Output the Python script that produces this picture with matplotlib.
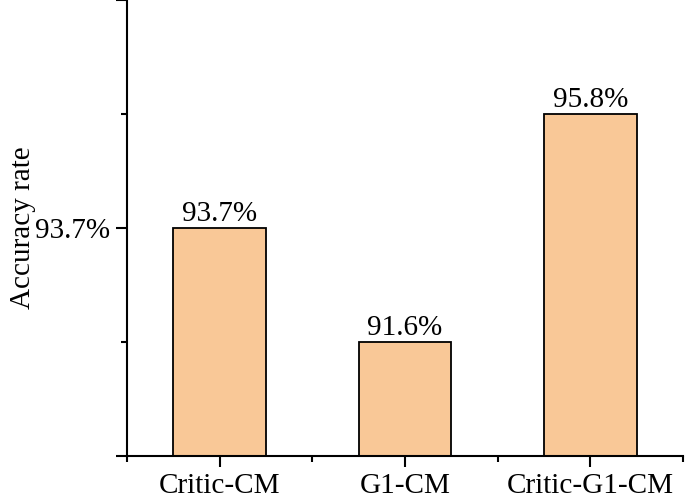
import matplotlib
matplotlib.use('Agg')
import matplotlib.pyplot as plt
from matplotlib.ticker import FixedLocator, FixedFormatter

metodos = ['Critic-CM', 'G1-CM', 'Critic-G1-CM']
precision = [93.7, 91.6, 95.8]
etiquetas = ['93.7%', '91.6%', '95.8%']

plt.rcParams['font.family'] = 'Liberation Serif'
plt.rcParams['font.size'] = 21

fig = plt.figure(figsize=(6.85, 5.04), dpi=100)
ax = fig.add_axes([0.1854, 0.0952, 0.8116, 0.9048])

x = range(len(metodos))
barras = ax.bar(x, precision, width=0.5, color='#F9C897', edgecolor='black', linewidth=1.3)
ax.bar_label(barras, labels=etiquetas, padding=1, fontsize=21)

ax.set_xlim(-0.5, 2.5)
ax.set_ylim(89.5, 97.9)

ax.set_xticks(list(x))
ax.set_xticklabels(metodos)
ax.xaxis.set_minor_locator(FixedLocator([-0.5, 0.5, 1.5, 2.5]))

ax.yaxis.set_major_locator(FixedLocator([89.5, 93.7, 97.9]))
ax.yaxis.set_major_formatter(FixedFormatter(['', '93.7%', '']))
ax.yaxis.set_minor_locator(FixedLocator([91.6, 95.8]))

ax.spines['top'].set_visible(False)
ax.spines['right'].set_visible(False)
ax.spines['left'].set_linewidth(1.5)
ax.spines['bottom'].set_linewidth(1.5)

ax.tick_params(axis='both', which='major', direction='out', length=8, width=1.5, pad=4)
ax.tick_params(axis='both', which='minor', direction='out', length=4, width=1.5)

ax.set_ylabel('Accuracy rate', fontsize=21)
ax.yaxis.set_label_coords(-0.163, 0.5)

fig.savefig('out.png', dpi=100)
